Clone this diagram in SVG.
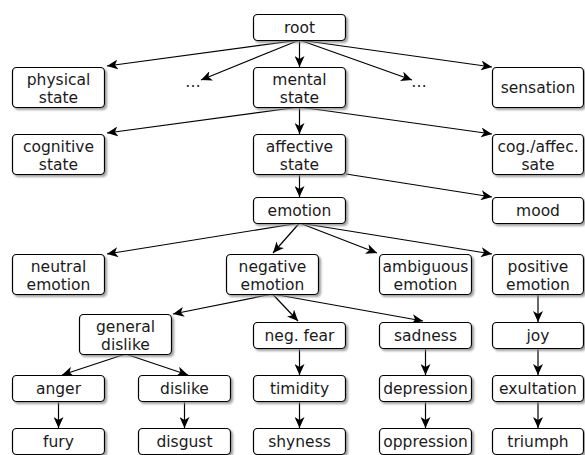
<svg xmlns="http://www.w3.org/2000/svg" width="585" height="455" viewBox="0 0 585 455">
<defs>
<filter id="sh" x="-10%" y="-20%" width="130%" height="150%">
<feDropShadow dx="2" dy="2" stdDeviation="0.8" flood-color="#888" flood-opacity="0.8"/>
</filter>
<marker id="ah" markerUnits="userSpaceOnUse" markerWidth="12" markerHeight="10" refX="11" refY="5" orient="auto">
<path d="M0,0 L11,5 L0,10 L3,5 Z" fill="#000"/>
</marker>
<style>
.n rect{fill:#fff;stroke:#000;stroke-width:1.2;filter:url(#sh)}
text{font-family:"DejaVu Sans",Verdana,sans-serif;font-size:15.5px;fill:#1a1a1a;text-anchor:middle}
#edges line{stroke:#000;stroke-width:1.2;marker-end:url(#ah)}
</style>
</defs>
<g id="edges">
<line x1="299.5" y1="40" x2="107" y2="66"/>
<line x1="299.5" y1="40" x2="201" y2="80"/>
<line x1="299.5" y1="40" x2="299.5" y2="67"/>
<line x1="299.5" y1="40" x2="412" y2="80"/>
<line x1="299.5" y1="40" x2="492" y2="67"/>
<line x1="299.5" y1="107" x2="107" y2="133"/>
<line x1="299.5" y1="107" x2="299.5" y2="134"/>
<line x1="299.5" y1="107" x2="492" y2="134"/>
<line x1="299.5" y1="174" x2="299.5" y2="197"/>
<line x1="346" y1="174" x2="492" y2="197"/>
<line x1="299.5" y1="223" x2="107" y2="254"/>
<line x1="299.5" y1="223" x2="273" y2="253"/>
<line x1="299.5" y1="223" x2="377" y2="253"/>
<line x1="299.5" y1="223" x2="492" y2="254"/>
<line x1="272.5" y1="294" x2="173" y2="314"/>
<line x1="272.5" y1="294" x2="298" y2="321"/>
<line x1="272.5" y1="294" x2="423" y2="321"/>
<line x1="538" y1="294" x2="538" y2="322"/>
<line x1="125.5" y1="354" x2="62" y2="375"/>
<line x1="125.5" y1="354" x2="188" y2="375"/>
<line x1="299.5" y1="348" x2="299.5" y2="375"/>
<line x1="425.5" y1="348" x2="425.5" y2="375"/>
<line x1="538" y1="348" x2="538" y2="375"/>
<line x1="58.5" y1="401" x2="58.5" y2="428"/>
<line x1="184.5" y1="401" x2="184.5" y2="428"/>
<line x1="299.5" y1="401" x2="299.5" y2="428"/>
<line x1="425.5" y1="401" x2="425.5" y2="428"/>
<line x1="538" y1="401" x2="538" y2="428"/>
</g>
<g id="root" class="n"><rect x="253.5" y="14.5" width="92" height="26" rx="4"/><text x="299.5" y="33">root</text></g>
<g id="physical" class="n"><rect x="12.5" y="67.5" width="92" height="40" rx="4"/><text x="58.5" y="85">physical</text><text x="58.5" y="103">state</text></g>
<g id="dots1"><text x="193" y="87">…</text></g>
<g id="mental" class="n"><rect x="253.5" y="67.5" width="92" height="40" rx="4"/><text x="299.5" y="85">mental</text><text x="299.5" y="103">state</text></g>
<g id="dots2"><text x="419" y="87">…</text></g>
<g id="sensation" class="n"><rect x="492.5" y="67.5" width="91" height="40" rx="4"/><text x="538" y="93">sensation</text></g>
<g id="cognitive" class="n"><rect x="12.5" y="134.5" width="92" height="40" rx="4"/><text x="58.5" y="152">cognitive</text><text x="58.5" y="170">state</text></g>
<g id="affective" class="n"><rect x="253.5" y="134.5" width="92" height="40" rx="4"/><text x="299.5" y="152">affective</text><text x="299.5" y="170">state</text></g>
<g id="cogaffec" class="n"><rect x="492.5" y="134.5" width="91" height="40" rx="4"/><text x="538" y="152">cog./affec.</text><text x="538" y="170">sate</text></g>
<g id="emotion" class="n"><rect x="253.5" y="197.5" width="92" height="26" rx="4"/><text x="299.5" y="216">emotion</text></g>
<g id="mood" class="n"><rect x="492.5" y="197.5" width="91" height="26" rx="4"/><text x="538" y="216">mood</text></g>
<g id="neutral" class="n"><rect x="12.5" y="254.5" width="92" height="40" rx="4"/><text x="58.5" y="272">neutral</text><text x="58.5" y="290">emotion</text></g>
<g id="negative" class="n"><rect x="226.5" y="254.5" width="92" height="40" rx="4"/><text x="272.5" y="272">negative</text><text x="272.5" y="290">emotion</text></g>
<g id="ambiguous" class="n"><rect x="379.5" y="254.5" width="92" height="40" rx="4"/><text x="425.5" y="272">ambiguous</text><text x="425.5" y="290">emotion</text></g>
<g id="positive" class="n"><rect x="492.5" y="254.5" width="91" height="40" rx="4"/><text x="538" y="272">positive</text><text x="538" y="290">emotion</text></g>
<g id="generaldislike" class="n"><rect x="79.5" y="314.5" width="92" height="40" rx="4"/><text x="125.5" y="332">general</text><text x="125.5" y="350">dislike</text></g>
<g id="negfear" class="n"><rect x="253.5" y="322.5" width="92" height="26" rx="4"/><text x="299.5" y="341">neg. fear</text></g>
<g id="sadness" class="n"><rect x="379.5" y="322.5" width="92" height="26" rx="4"/><text x="425.5" y="341">sadness</text></g>
<g id="joy" class="n"><rect x="492.5" y="322.5" width="91" height="26" rx="4"/><text x="538" y="341">joy</text></g>
<g id="anger" class="n"><rect x="12.5" y="375.5" width="92" height="26" rx="4"/><text x="58.5" y="394">anger</text></g>
<g id="dislike" class="n"><rect x="138.5" y="375.5" width="92" height="26" rx="4"/><text x="184.5" y="394">dislike</text></g>
<g id="timidity" class="n"><rect x="253.5" y="375.5" width="92" height="26" rx="4"/><text x="299.5" y="394">timidity</text></g>
<g id="depression" class="n"><rect x="379.5" y="375.5" width="92" height="26" rx="4"/><text x="425.5" y="394">depression</text></g>
<g id="exultation" class="n"><rect x="492.5" y="375.5" width="91" height="26" rx="4"/><text x="538" y="394">exultation</text></g>
<g id="fury" class="n"><rect x="12.5" y="428.5" width="92" height="26" rx="4"/><text x="58.5" y="447">fury</text></g>
<g id="disgust" class="n"><rect x="138.5" y="428.5" width="92" height="26" rx="4"/><text x="184.5" y="447">disgust</text></g>
<g id="shyness" class="n"><rect x="253.5" y="428.5" width="92" height="26" rx="4"/><text x="299.5" y="447">shyness</text></g>
<g id="oppression" class="n"><rect x="379.5" y="428.5" width="92" height="26" rx="4"/><text x="425.5" y="447">oppression</text></g>
<g id="triumph" class="n"><rect x="492.5" y="428.5" width="91" height="26" rx="4"/><text x="538" y="447">triumph</text></g>
</svg>
